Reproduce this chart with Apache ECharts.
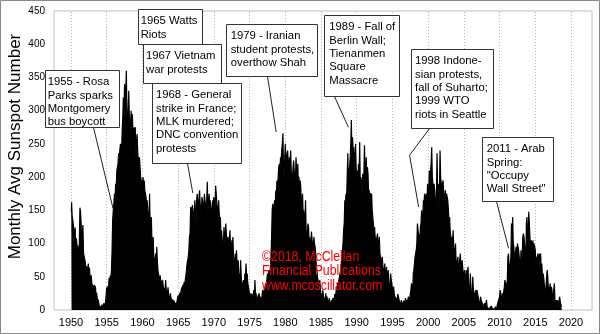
<!DOCTYPE html>
<html><head><meta charset="utf-8">
<script src="https://cdn.jsdelivr.net/npm/echarts@6/dist/echarts.min.js"></script>
<style>html,body{margin:0;padding:0;background:#fff}#c{width:600px;height:334px}</style>
</head><body><div id="c"></div>
<script>
// Monthly average sunspot number, one value per month (Jan..Dec), by decade
const ssn1950s = [
 148,162,140,135,128,118,110,124,86,108,98,95,
 96,92,100,154,148,130,102,100,128,86,84,76,
 72,58,66,55,60,70,50,64,48,45,52,40,
 42,35,28,38,30,36,22,26,18,20,14,12,
 2,6,4,0,8,6,4,10,12,6,12,22,
 34,30,36,32,48,42,52,46,60,90,135,150,
 160,175,165,190,185,210,215,220,236,230,240,250,
 246,240,270,290,320,300,340,310,330,360,290,280,
 300,330,290,270,280,300,260,295,270,250,275,255,
 275,230,250,265,240,225,220,230,215,200,195,185
];
const ssn1960s = [
 190,200,185,195,180,175,170,160,165,150,140,130,
 175,120,115,140,100,95,110,80,75,70,85,65,
 95,75,60,55,45,48,52,40,42,38,45,35,
 32,38,28,45,30,28,26,34,22,20,18,25,
 18,15,12,16,10,14,12,8,10,6,12,18,
 22,16,14,26,20,30,34,28,38,30,42,38,
 45,48,60,70,75,80,90,110,115,155,140,150,
 158,150,130,140,165,145,130,165,175,160,145,170,
 180,160,150,145,170,165,155,145,175,165,150,160,
 165,193,150,160,175,155,165,150,145,155,165,150
];
const ssn1970s = [
 170,160,150,187,175,160,150,140,165,145,130,140,
 110,120,105,100,95,125,110,100,130,115,105,100,
 110,90,100,120,95,105,85,95,110,80,75,70,
 85,60,90,70,60,75,50,55,45,75,50,40,
 35,40,45,30,55,50,70,50,55,40,35,30,
 20,25,15,18,25,22,10,30,18,45,20,25,
 12,15,20,22,25,18,12,20,15,22,30,25,
 25,30,35,40,35,45,55,40,60,55,50,65,
 80,110,150,160,145,150,165,155,180,175,195,180,
 200,215,220,210,230,225,240,250,266,215,200,225
];
const ssn1980s = [
 250,230,215,235,240,220,205,230,215,240,210,200,
 190,215,225,210,200,190,230,210,195,220,185,200,
 170,195,185,160,150,175,145,150,135,130,165,120,
 115,110,130,125,105,110,100,95,118,105,100,90,
 110,100,95,85,70,60,50,45,40,35,45,30,
 20,25,15,30,22,18,20,12,25,15,20,22,
 10,14,18,12,8,6,15,10,18,20,12,24,
 20,25,35,30,40,35,45,50,55,60,70,80,
 90,100,120,130,165,160,175,170,200,236,190,210,
 215,230,250,286,230,260,240,245,230,210,250,215
];
const ssn1990s = [
 200,210,190,220,195,253,185,200,190,175,205,190,
 200,248,210,190,230,195,215,205,175,180,170,176,
 160,175,150,140,130,120,125,110,100,105,110,115,
 90,100,110,85,80,70,75,80,65,60,55,70,
 55,50,65,45,48,60,40,30,35,55,45,40,
 30,28,35,25,20,22,18,20,15,24,20,16,
 12,10,8,15,12,6,10,14,4,12,18,14,
 10,12,16,20,18,15,24,30,40,35,25,55,
 60,70,80,85,90,100,130,120,115,110,100,125,
 130,150,140,135,165,160,175,170,155,175,160,190
];
const ssn2000s = [
 160,180,210,190,210,220,245,200,190,180,190,180,
 160,145,180,236,175,190,150,180,240,200,190,170,
 190,195,180,170,165,180,160,175,170,165,150,135,
 140,120,110,105,110,100,120,95,80,90,100,70,
 60,75,80,60,65,75,85,65,60,75,65,50,
 50,60,40,45,60,50,55,65,40,25,30,55,
 25,15,30,50,30,25,20,25,30,20,30,25,
 20,15,10,5,20,15,18,10,5,8,5,10,
 5,3,15,5,3,5,1,0,2,4,6,6,
 2,2,1,1,3,5,4,0,7,8,6,10
];
const ssn2010s = [
 20,30,25,12,20,25,20,28,35,45,40,30,
 30,45,80,85,60,60,70,80,130,115,140,100,
 95,50,85,85,95,85,100,95,90,80,70,60,
 90,55,80,110,115,110,100,90,55,130,140,110,
 100,148,130,110,90,105,100,90,105,80,100,95,
 90,65,80,70,85,85,75,85,60,85,60,70,
 50,55,50,40,40,20,35,50,60,50,30,35,
 30,40,20,35,30,20,15,30,40,15,10,15,
 10,15,5,10,15,20,12,10,5
];
const decadeStarts = [1950,1960,1970,1980,1990,2000,2010];
const xTickYears = [1950,1955,1960,1965,1970,1975,1980,1985,1990,1995,2000,2005,2010,2015,2020];
const yTicks = [0,50,100,150,200,250,300,350,400,450];
const yTitle = 'Monthly Avg Sunspot Number';
const noteTexts = [
 ['1955 - Rosa','Parks sparks','Montgomery','bus boycott'],
 ['1965 Watts','Riots'],
 ['1967 Vietnam','war protests'],
 ['1968 - General','strike in France;','MLK murdered;','DNC convention','protests'],
 ['1979 - Iranian','student protests,','overthow Shah'],
 ['1989 - Fall of','Berlin Wall;','Tienanmen','Square','Massacre'],
 ['1998 Indone-','sian protests,','fall of Suharto;','1999 WTO','riots in Seattle'],
 ['2011 - Arab','Spring:','"Occupy','Wall Street"']
];
// where each callout points to, in [year, sunspot number]
const noteTargets = [[1955.88,153],null,null,[1967.05,176],[1978.72,268],[1988.84,275],[1998.67,155],[2011.25,93]];
const copyright = ['\u00a92018, McClellan','Financial Publications','www.mcoscillator.com'];

// ---- layout (pixels) ----
const boxLayout = [ // x, y, w, h, textX, lineStartX
 [45,70,74,57,47.7,93],
 [138,9,64,35,140.7,null],
 [143,44,78,39,146,null],
 [152,83,89,80,156,187],
 [226,24,91,52,230.7,267],
 [324,15,75,81,329.3,334],
 [411,49,82,79,415,429],
 [482,137,71,64,486.7,496]
];
const kink1998 = [1997.4,233];

const ssnSeries = [ssn1950s,ssn1960s,ssn1970s,ssn1980s,ssn1990s,ssn2000s,ssn2010s];
const points = [];
ssnSeries.forEach((arr, d) => arr.forEach((v, i) => points.push([decadeStarts[d] + (i + 0.5) / 12, v])));

const FONT = '"Liberation Sans", Arial, sans-serif';
const chart = echarts.init(document.getElementById('c'), null, {renderer: 'canvas'});
chart.setOption({
  animation: false,
  backgroundColor: '#fff',
  grid: {left: 54, right: 8, top: 11, bottom: 24, show: true, borderColor: '#c0c0c0', borderWidth: 1, containLabel: false},
  xAxis: {
    type: 'value', min: 1947.62, max: 2022.94,
    axisLine: {show: false}, axisTick: {show: false}, splitLine: {show: false},
    axisLabel: {customValues: xTickYears, color: '#000', fontSize: 11, fontFamily: FONT, margin: 7, formatter: v => String(Math.round(v))}
  },
  yAxis: {
    type: 'value', min: 0, max: 450, interval: 50,
    axisLine: {show: false}, axisTick: {show: false}, splitLine: {show: false},
    axisLabel: {color: '#000', fontSize: 10, fontFamily: FONT, margin: 9}
  },
  series: [
    {type: 'line', data: [], silent: true, z: 1,
     markLine: {silent: true, z: 1, symbol: ['none','none'], label: {show: false},
       lineStyle: {color: '#b4b4b4', type: [1,2], width: 1},
       emphasis: {disabled: true},
       data: xTickYears.map(y => ({xAxis: y}))}},
    {type: 'line', data: points, step: 'middle', symbol: 'none', z: 3, silent: true,
     lineStyle: {width: 1.2, color: '#000'}, areaStyle: {color: '#000', opacity: 1}}
  ]
});

const g = [];
g.push({type: 'text', x: 15.5, y: 146.5, rotation: Math.PI / 2, z: 50,
  style: {text: yTitle, font: '17px ' + FONT, fill: '#000', align: 'center', verticalAlign: 'middle'}});
noteTexts.forEach((lines, i) => {
  const [bx, by, bw, bh, tx, lx] = boxLayout[i];
  const tgt = noteTargets[i];
  if (tgt) {
    const tip = chart.convertToPixel({gridIndex: 0}, tgt);
    let pts = [[lx + 0.5, by + bh + 0.5]];
    if (i === 6) pts.push(chart.convertToPixel({gridIndex: 0}, kink1998));
    pts.push(tip);
    g.push({type: 'polyline', z: 60, shape: {points: pts}, style: {stroke: '#222', lineWidth: 1, fill: null}});
  }
  g.push({type: 'rect', z: 70, shape: {x: bx + 0.5, y: by + 0.5, width: bw, height: bh},
    style: {fill: '#fff', stroke: '#333', lineWidth: 1}});
  g.push({type: 'text', z: 71, x: tx, y: by + 5.3,
    style: {text: lines.join('\n'), font: '11.3px ' + FONT, fill: '#000', lineHeight: 13.4, align: 'left', verticalAlign: 'top'}});
});
g.push({type: 'text', z: 80, x: 262, y: 249.4, scaleY: 1.2,
  style: {text: copyright.join('\n'), font: '12.3px ' + FONT, fill: '#ff0000', lineHeight: 12.1, align: 'left', verticalAlign: 'top'}});
g.push({type: 'rect', z: 90, shape: {x: 0.5, y: 0.5, width: 599, height: 333}, style: {fill: null, stroke: '#888', lineWidth: 1}});
chart.setOption({graphic: g});
</script></body></html>
